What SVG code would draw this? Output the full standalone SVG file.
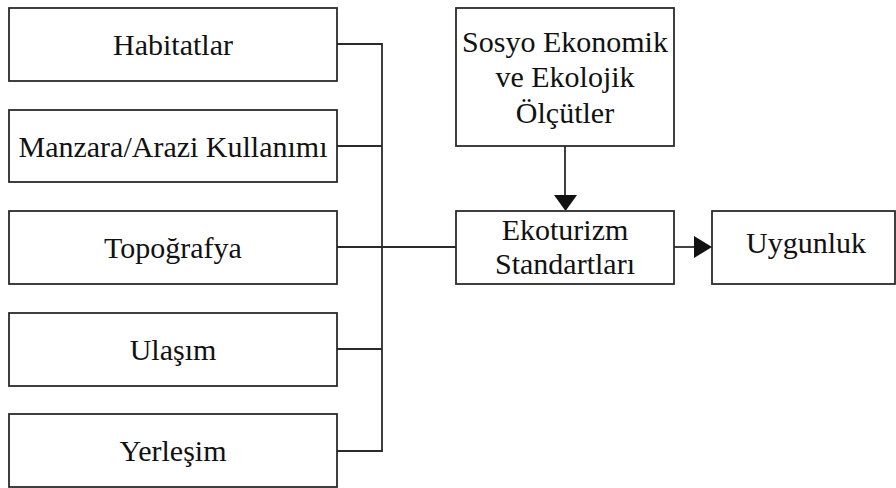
<svg xmlns="http://www.w3.org/2000/svg" width="896" height="488" viewBox="0 0 896 488">
  <style>
    .box { fill: #ffffff; stroke: #2b2b2b; stroke-width: 1.8; }
    .lbl { font-family: "Liberation Serif", "Times New Roman", serif; font-size: 30px; fill: #111111; text-anchor: middle; }
    .wire { fill: none; stroke: #2b2b2b; stroke-width: 1.8; }
    .head { fill: #111111; }
  </style>
  <rect width="896" height="488" fill="#ffffff"/>

  <!-- bus collecting the five factors, plus the two arrows -->
  <g id="connectors">
    <path class="wire" d="M337,44 H382 V451 H337"/>
    <path class="wire" d="M337,146 H382"/>
    <path class="wire" d="M337,349 H382"/>
    <path class="wire" d="M337,247 H456"/>
    <path class="wire" d="M565,146 V196"/>
    <path class="head" d="M554,195 L577,195 L565.5,211 Z"/>
    <path class="wire" d="M674,247 H695"/>
    <path class="head" d="M694,236 L712,247 L694,258 Z"/>
  </g>

  <g id="habitatlar">
    <rect class="box" x="9" y="8" width="328" height="73"/>
    <text class="lbl" x="173" y="55">Habitatlar</text>
  </g>
  <g id="manzara">
    <rect class="box" x="9" y="110" width="328" height="72"/>
    <text class="lbl" x="173" y="157">Manzara/Arazi Kullanımı</text>
  </g>
  <g id="topografya">
    <rect class="box" x="9" y="211" width="328" height="73"/>
    <text class="lbl" x="173" y="258">Topoğrafya</text>
  </g>
  <g id="ulasim">
    <rect class="box" x="9" y="313" width="328" height="73"/>
    <text class="lbl" x="173" y="360">Ulaşım</text>
  </g>
  <g id="yerlesim">
    <rect class="box" x="9" y="414" width="328" height="73"/>
    <text class="lbl" x="173" y="461">Yerleşim</text>
  </g>
  <g id="sosyo-ekonomik">
    <rect class="box" x="456" y="8" width="218" height="138"/>
    <text class="lbl" x="565" y="52">Sosyo Ekonomik</text>
    <text class="lbl" x="565" y="87">ve Ekolojik</text>
    <text class="lbl" x="565" y="123">Ölçütler</text>
  </g>
  <g id="ekoturizm">
    <rect class="box" x="456" y="211" width="218" height="73"/>
    <text class="lbl" x="565" y="240">Ekoturizm</text>
    <text class="lbl" x="565" y="274">Standartları</text>
  </g>
  <g id="uygunluk">
    <rect class="box" x="712" y="211" width="183" height="73"/>
    <text class="lbl" x="806" y="253">Uygunluk</text>
  </g>
</svg>
